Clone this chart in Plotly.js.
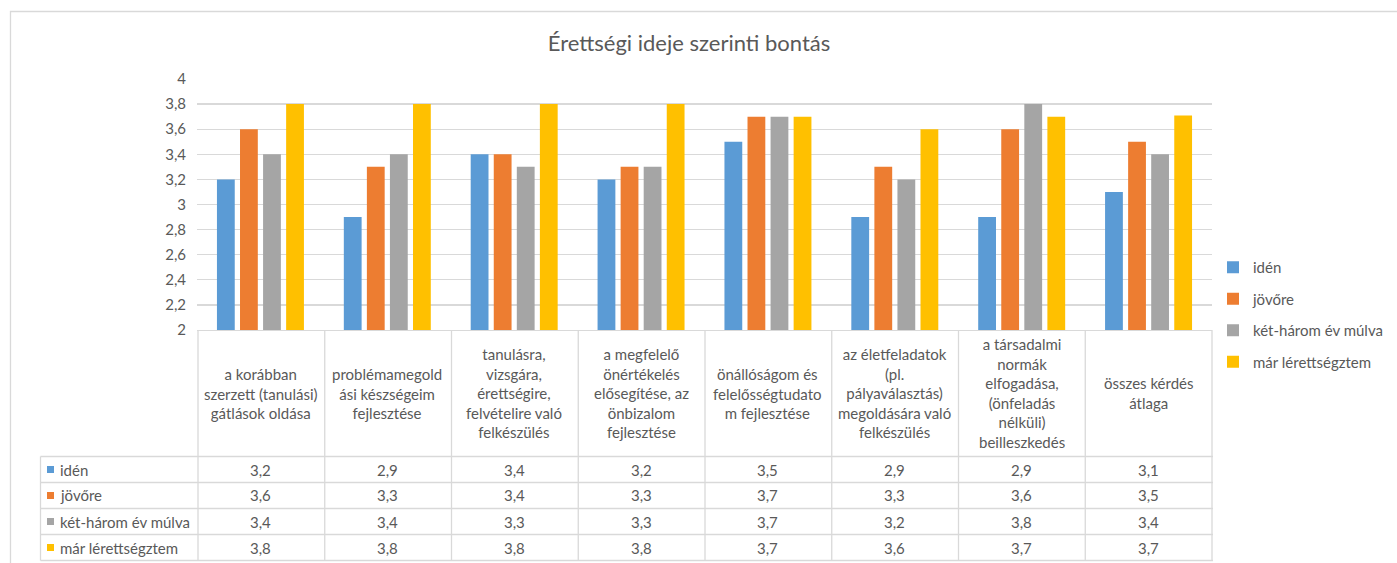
<!DOCTYPE html>
<html>
<head>
<meta charset="utf-8">
<script src="https://cdn.plot.ly/plotly-3.0.1.min.js"></script>
<style>
	html, body {margin: 0; padding: 0; background: #fff;}
	#chart {width: 1397px; height: 563px;}
</style>
</head>
<body>
<div id="chart"></div>
<script>
"use strict";

//DATA
const categories = [
	"a korábban<br>szerzett (tanulási)<br>gátlások oldása",
	"problémamegold<br>ási készségeim<br>fejlesztése",
	"tanulásra,<br>vizsgára,<br>érettségire,<br>felvételire való<br>felkészülés",
	"a megfelelő<br>önértékelés<br>elősegítése, az<br>önbizalom<br>fejlesztése",
	"önállóságom és<br>felelősségtudato<br>m fejlesztése",
	"az életfeladatok<br>(pl.<br>pályaválasztás)<br>megoldására való<br>felkészülés",
	"a társadalmi<br>normák<br>elfogadása,<br>(önfeladás<br>nélküli)<br>beilleszkedés",
	"összes kérdés<br>átlaga"
];

const seriesNames = ["idén", "jövőre", "két-három év múlva", "már lérettségztem"];
const colors = ["#5B9BD5", "#ED7D31", "#A5A5A5", "#FFC000"];

const iden      = [3.2, 2.9, 3.4, 3.2, 3.5, 2.9, 2.9, 3.1];
const jovore    = [3.6, 3.3, 3.4, 3.3, 3.7, 3.3, 3.6, 3.5];
const ketharom  = [3.4, 3.4, 3.3, 3.3, 3.7, 3.2, 3.8, 3.4];
const marerett  = [3.8, 3.8, 3.8, 3.8, 3.7, 3.6, 3.7, 3.71];
const series = [iden, jovore, ketharom, marerett];

const yTicks = [2, 2.2, 2.4, 2.6, 2.8, 3, 3.2, 3.4, 3.6, 3.8, 4];

//LAYOUT HELPERS (pixel -> paper)
const W = 1397, H = 563;
const L = 197, R = 1212, T = 79, B = 330;
const px = x => (x - L) / (R - L);
const py = y => (B - y) / (B - T);

const FONT = "Lato, 'Open Sans', sans-serif";
const FS = 15;
const GREY = "#595959";
const LINE = "#D9D9D9";

const rowEdges = [456.5, 482.5, 508.5, 534.5, 560.5];

function fmt(v){
	return (Math.round(v * 10) / 10).toFixed(1).replace('.', ',').replace(',0', '');
}

//TRACES
const xs = categories.map((c, i) => i);
const traces = series.map((vals, k) => ({
	type: 'bar',
	name: seriesNames[k],
	x: xs,
	y: vals,
	marker: {color: colors[k]},
	legendgroup: 'g' + k,
	hoverinfo: 'y'
}));

//TABLE
const shapes = [];
const annotations = [];

// chart frame
shapes.push({type: 'rect', xref: 'paper', yref: 'paper',
	x0: px(10.5), x1: px(1402), y0: py(11.5), y1: py(570),
	line: {color: LINE, width: 1.3}});

// vertical lines
for(let i = 0; i <= categories.length; i++){
	let x = px(L + 1 + i * (R - L - 1) / categories.length);
	shapes.push({type: 'line', xref: 'paper', yref: 'paper',
		x0: x, x1: x, y0: py(B), y1: py(rowEdges.at(-1)),
		line: {color: LINE, width: 1.3}});
}
shapes.push({type: 'line', xref: 'paper', yref: 'paper',
	x0: px(40.5), x1: px(40.5), y0: py(rowEdges[0]), y1: py(rowEdges.at(-1)),
	line: {color: LINE, width: 1.3}});

// horizontal lines
for(let r of rowEdges){
	shapes.push({type: 'line', xref: 'paper', yref: 'paper',
		x0: px(40.5), x1: px(R + 1), y0: py(r), y1: py(r),
		line: {color: LINE, width: 1.3}});
}

// header cells
categories.forEach((c, i) => {
	annotations.push({xref: 'x', yref: 'paper', x: i, y: py((B + rowEdges[0]) / 2),
		xanchor: 'center', yanchor: 'middle',
		text: c, showarrow: false, align: 'center',
		font: {family: FONT, size: FS, color: GREY}});
});

// data rows
series.forEach((vals, k) => {
	let yc = py((rowEdges[k] + rowEdges[k + 1]) / 2);
	shapes.push({type: 'rect', xref: 'paper', yref: 'paper',
		x0: px(47), x1: px(54), y0: yc - 3.5 / (B - T), y1: yc + 3.5 / (B - T),
		fillcolor: colors[k], line: {width: 0}});
	annotations.push({xref: 'paper', yref: 'paper', x: px(58), y: yc,
		xanchor: 'left', yanchor: 'middle', text: seriesNames[k], showarrow: false,
		font: {family: FONT, size: FS, color: GREY}});
	vals.forEach((v, i) => {
		annotations.push({xref: 'x', yref: 'paper', x: i, y: yc,
			xanchor: 'center', yanchor: 'middle',
			text: fmt(v), showarrow: false,
			font: {family: FONT, size: FS, color: GREY}});
	});
});

const layout = {
	width: W, height: H,
	margin: {l: L, r: W - R, t: T, b: H - B, pad: 0, autoexpand: false},
	paper_bgcolor: '#fff', plot_bgcolor: '#fff',
	separators: ', ',
	font: {family: FONT, color: GREY, size: FS},
	title: {
		text: "Érettségi ideje szerinti bontás",
		font: {family: FONT, size: 22, color: GREY},
		xref: 'paper', x: px(689), xanchor: 'center',
		yref: 'container', y: 1 - 43 / H, yanchor: 'middle'
	},
	barmode: 'group',
	bargap: 0.273,
	bargroupgap: 0.228,
	xaxis: {
		type: 'linear', range: [-0.5, categories.length - 0.5],
		showticklabels: false, showgrid: false, zeroline: false,
		showline: true, linecolor: LINE, linewidth: 1.3, ticks: ''
	},
	yaxis: {
		range: [2, 4], tickvals: yTicks, ticktext: yTicks.map(fmt),
		showgrid: true, gridcolor: LINE, gridwidth: 1.3,
		zeroline: false, showline: false, ticks: '',
		ticklabelstandoff: 10,
		tickfont: {family: FONT, size: FS, color: GREY}
	},
	legend: {
		x: px(1213), xanchor: 'left',
		y: py(314.5), yanchor: 'middle',
		traceorder: 'grouped', tracegroupgap: 9,
		font: {family: FONT, size: FS, color: GREY},
		bgcolor: 'rgba(0,0,0,0)'
	},
	shapes: shapes,
	annotations: annotations
};

Plotly.newPlot('chart', traces, layout, {displayModeBar: false, staticPlot: true});
</script>
</body>
</html>
